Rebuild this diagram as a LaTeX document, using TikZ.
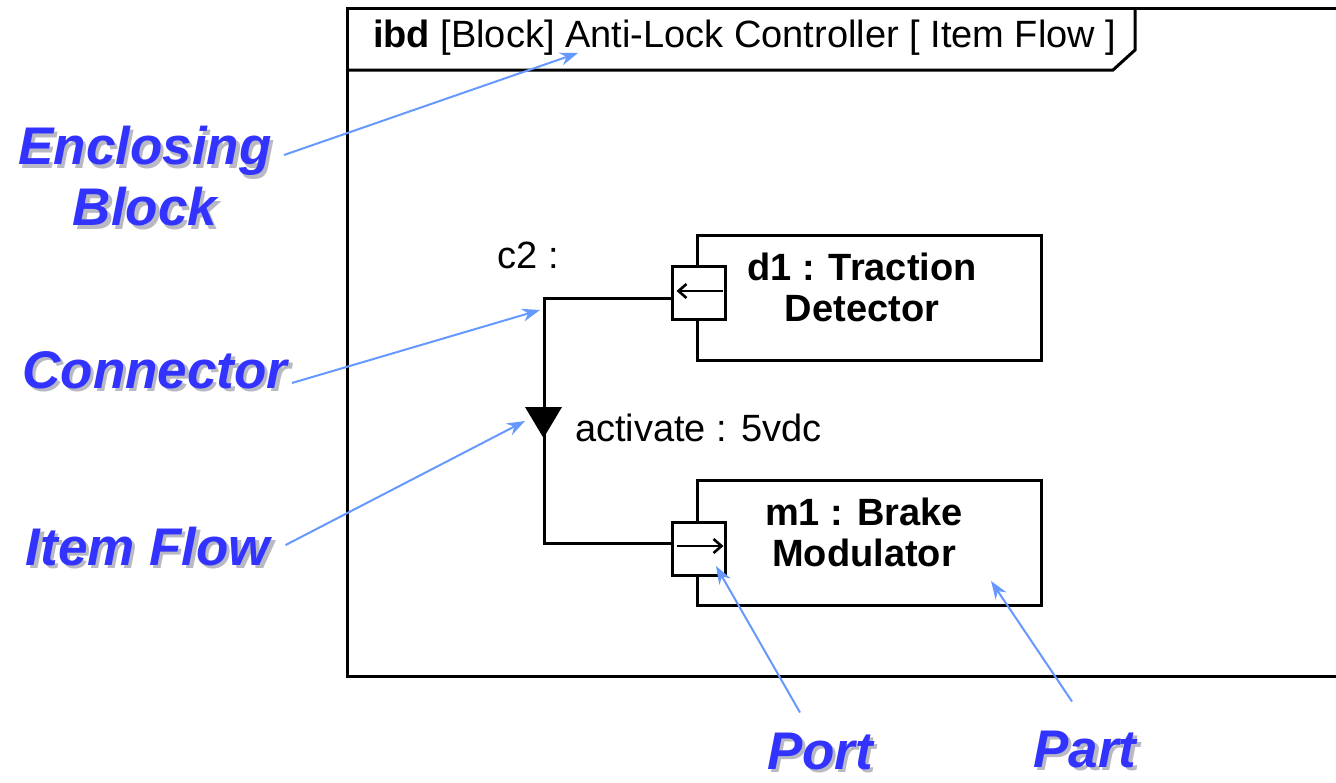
\documentclass[tikz,border=0pt]{standalone}
\usepackage{fontspec}
\setmainfont{Liberation Sans}
\usetikzlibrary{arrows.meta,calc}
\usepackage{xcolor}
\definecolor{calloutblue}{RGB}{51,51,255}
\definecolor{calloutline}{RGB}{102,153,255}
\definecolor{calloutshade}{RGB}{185,185,195}

% blue callout text with a soft grey shadow
\newcommand{\shadowed}[1]{\makebox[0pt][l]{\hspace{1.6pt}\raisebox{-1.6pt}{\textcolor{calloutshade}{#1}}}\textcolor{calloutblue}{#1}}

\begin{document}
\begin{tikzpicture}[x=0.5pt,y=-0.5pt,>=Stealth]

\useasboundingbox (0,0) rectangle (1336,782);

\tikzset{
  frameline/.style={line width=1.5pt},
  part/.style={
    draw,
    line width=1.5pt,
    minimum width=172pt,
    minimum height=62.5pt,
    inner sep=0pt
  },
  parttext/.style={
    align=center,
    font=\bfseries\fontsize{19}{20.5}\selectfont
  },
  port/.style={
    draw,
    fill=white,
    line width=1.5pt,
    minimum size=26.5pt,
    inner sep=0pt
  },
  portdir/.style={line width=1.3pt,-{Straight Barb[length=4pt,width=7pt,line width=1.3pt]}},
  connector/.style={line width=1.5pt},
  plain/.style={font=\fontsize{19}{21}\selectfont},
  callout/.style={
    align=center,
    inner sep=2pt,
    font=\bfseries\itshape\fontsize{26.5}{30.5}\selectfont
  },
  calloutarrow/.style={
    draw=calloutline,
    line width=1pt,
    -{Stealth[length=9pt,width=6.5pt]}
  }
}

% enclosing frame, right side runs off the page
\draw[frameline] (1336,8) -- (347,8) -- (347,676) -- (1336,676);
\draw[frameline] (347,70) -- (1113,70) -- (1135,50) -- (1135,8);
\node[plain,anchor=west] (title) at (366,38)
  {\textbf{ibd} [Block] Anti-Lock Controller [ Item Flow ]};

% parts
\node[part] (d1) at (869,297.5) {};
\node[parttext] (d1text) at (862,287) {d1 : Traction\\Detector};
\node[part] (m1) at (869,543) {};
\node[parttext] (m1text) at (864,532) {m1 : Brake\\Modulator};

% connector c2 with its item flow
\coordinate (c2top) at (544,298);
\coordinate (c2bot) at (544,543);
\node[port] (d1port) at (698.5,292.5) {};
\node[port] (m1port) at (698.5,548.5) {};
\draw[connector] (d1port.west |- c2top) -- (c2top) -- (c2bot) -- (m1port.west |- c2bot);
\draw[portdir] ($(d1port.east)+(-4,-1.5)$) -- ($(d1port.west)+(6,-1.5)$);
\draw[portdir] ($(m1port.west)+(6,-2.5)$) -- ($(m1port.east)+(-3,-2.5)$);

\node[plain] (c2lbl) at (528,255) {c2 :};
\fill (525,407) -- (562,407) -- (543.5,438) -- cycle;
\node[plain,anchor=west] (flowtext) at (568,428) {activate : 5vdc};

% callouts
\node[callout] (enclbl) at (145,178) {\shadowed{Enclosing}\\\shadowed{Block}};
\node[callout] (conlbl) at (155,372) {\shadowed{Connector}};
\node[callout] (flowlbl) at (148,548) {\shadowed{Item Flow}};
\node[callout] (portlbl) at (820,753) {\shadowed{Port}};
\node[callout] (partlbl) at (1085,751) {\shadowed{Part}};

\coordinate (titletgt) at (578,53);
\coordinate (contgt) at (540,310);
\coordinate (flowtgt) at (525,421);
\coordinate (porttgt) at (716,566);
\coordinate (parttgt) at (991,581);

\draw[calloutarrow] ([shift={(8,-23)}]enclbl.east) -- (titletgt);
\draw[calloutarrow] ([shift={(0,11)}]conlbl.east) -- (contgt);
\draw[calloutarrow] ([shift={(11,-3)}]flowlbl.east) -- (flowtgt);
\draw[calloutarrow] ([shift={(-20,-16)}]portlbl.north) -- (porttgt);
\draw[calloutarrow] ([shift={(-13,-25)}]partlbl.north) -- (parttgt);

\end{tikzpicture}
\end{document}
